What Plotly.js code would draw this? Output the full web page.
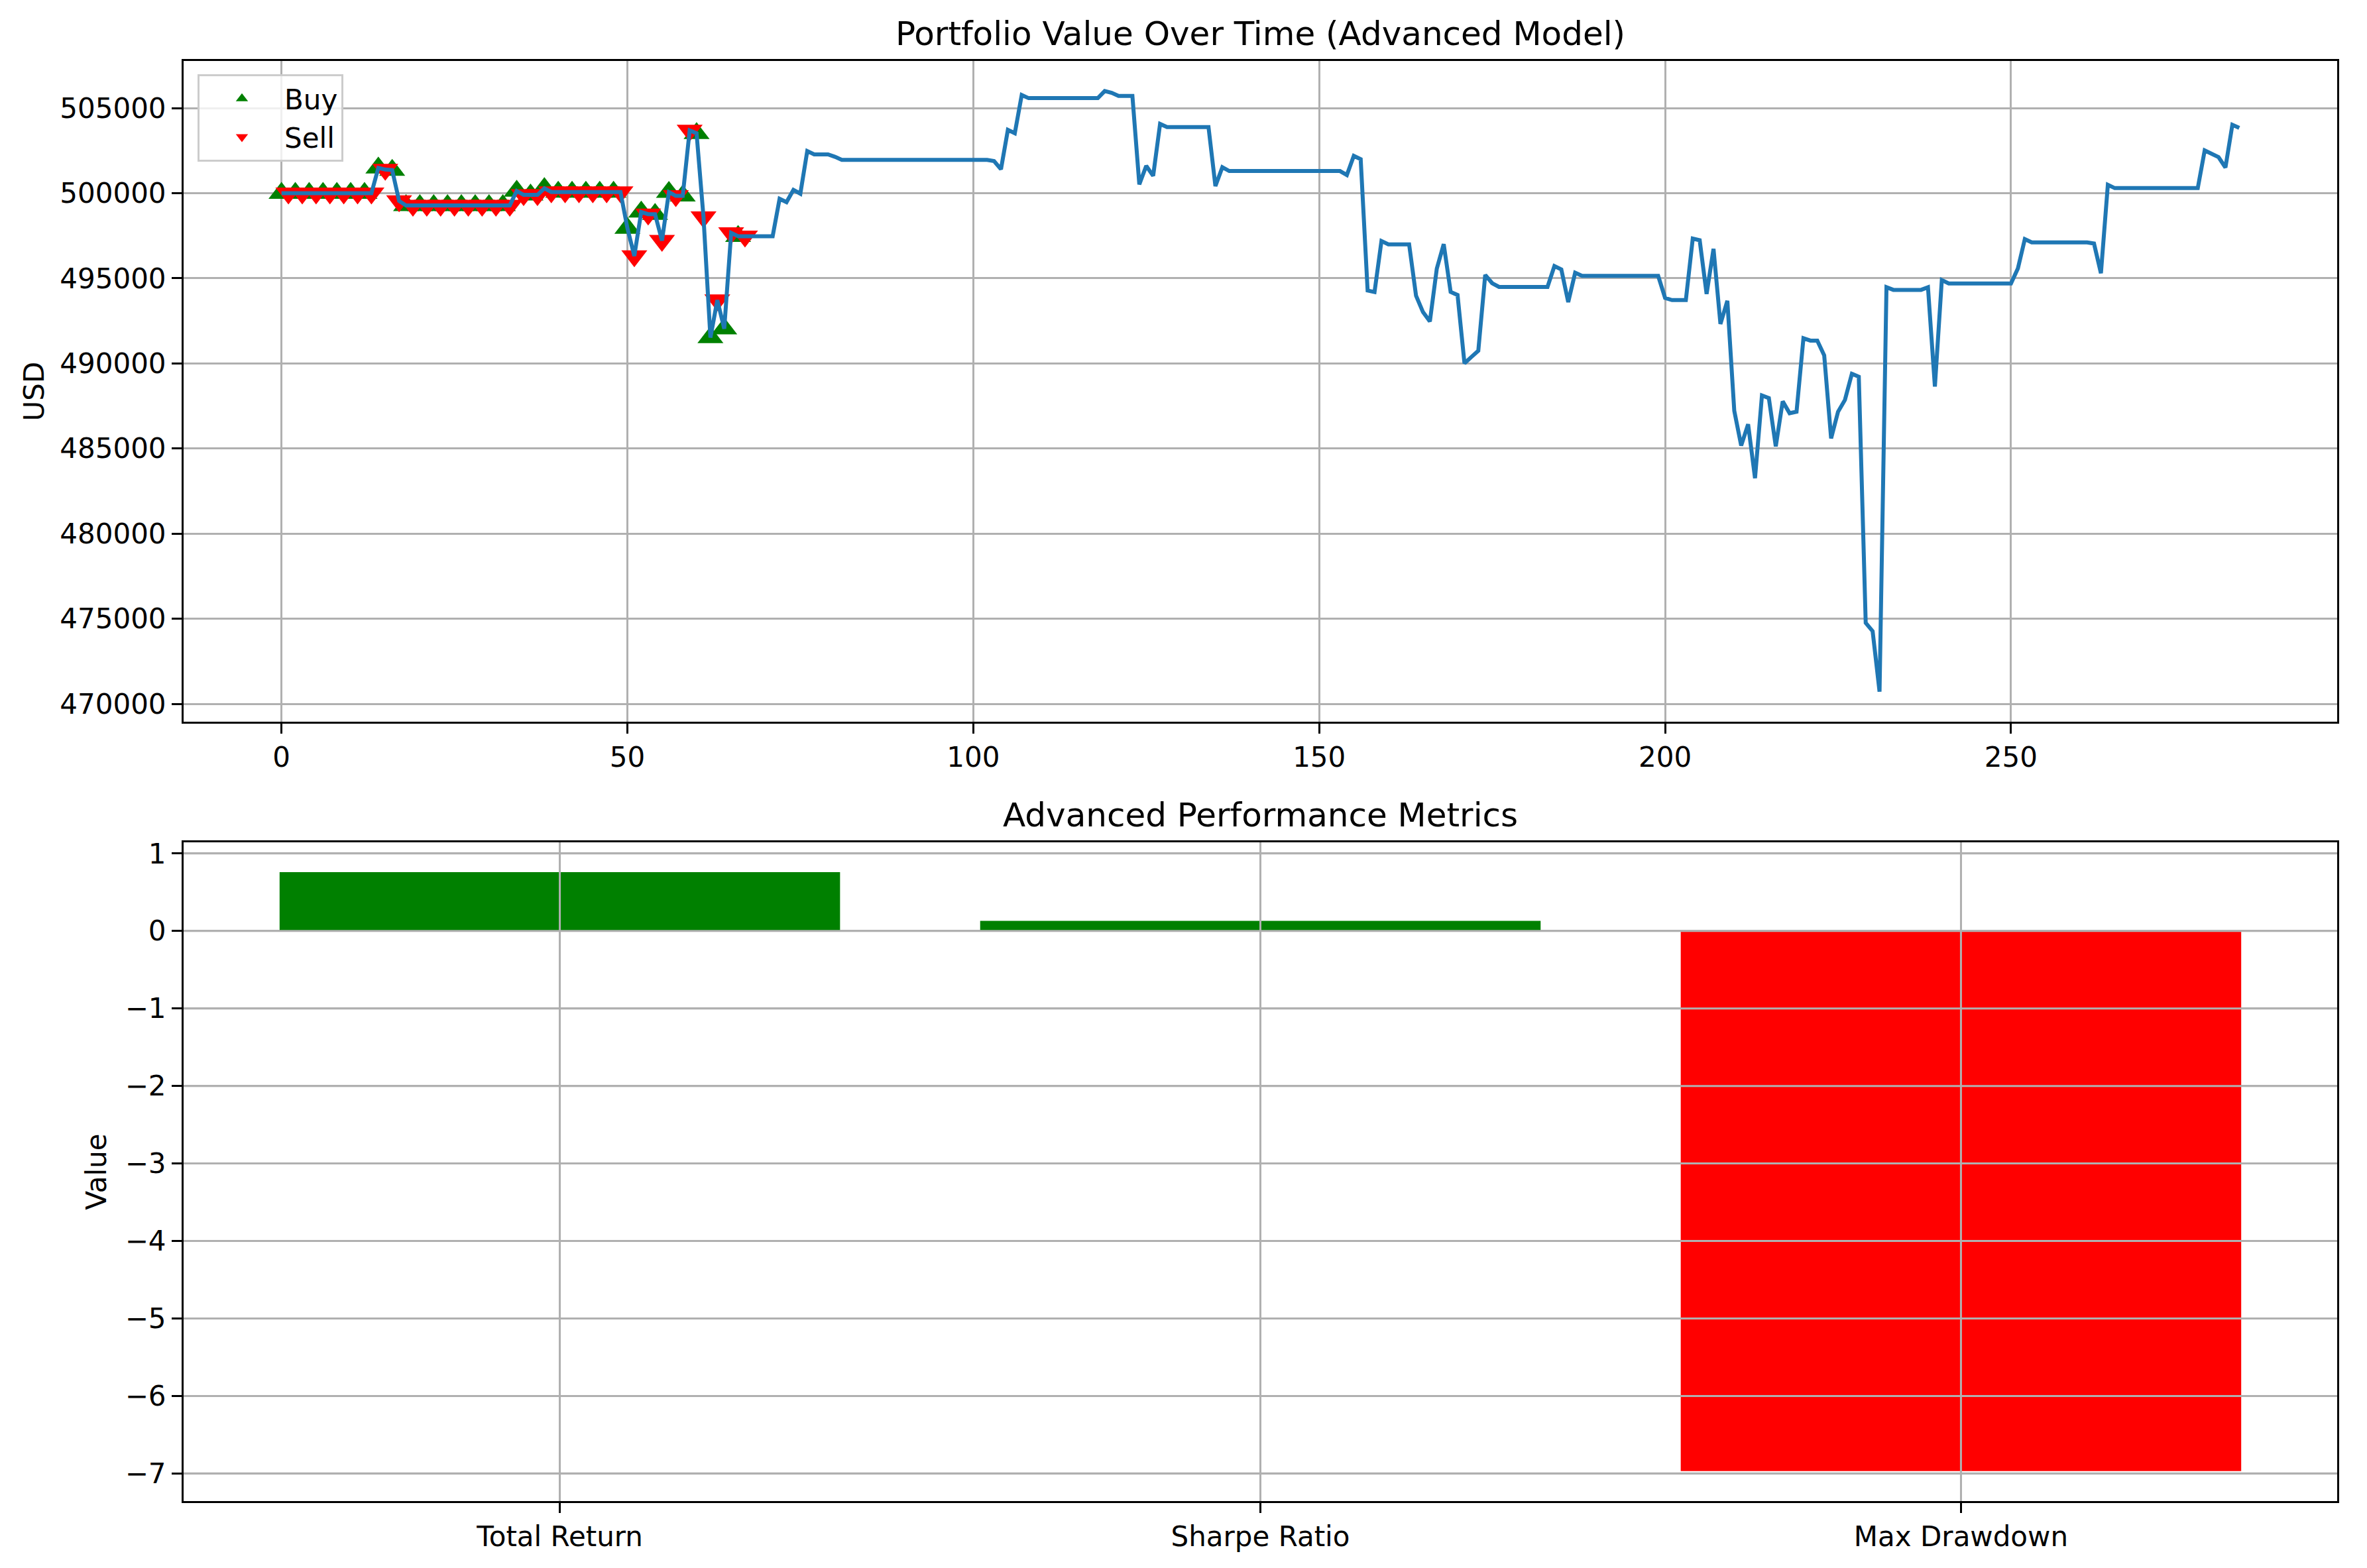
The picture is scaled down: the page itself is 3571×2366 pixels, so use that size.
<!DOCTYPE html>
<html><head><meta charset="utf-8">
<script src="https://cdn.plot.ly/plotly-3.0.1.min.js"></script>
<style>html,body{margin:0;padding:0;background:#fff}#chart{width:3571px;height:2366px}</style>
</head><body><div id="chart"></div>
<script>
// ---- data ----
const portfolioValues = [
500000,500000,500000,500000,500000,500000,500000,500000,500000,500000,
500000,500000,500000,500000,501490,501390,501360,499545,499285,499285,
499285,499285,499285,499285,499285,499285,499285,499285,499285,499285,
499285,499285,499285,499285,500130,499900,499900,499900,500286,500070,
500070,500070,500070,500070,500070,500070,500070,500070,500070,500070,
497950,496310,498900,498770,498770,497216,500065,499845,499845,503690,
503520,498600,491520,493720,492040,497670,497475,497475,497475,497475,
497475,497475,499674,499478,500196,499974,502480,502284,502284,502284,
502140,501958,501958,501958,501958,501958,501958,501958,501958,501958,
501958,501958,501958,501958,501958,501958,501958,501958,501958,501958,
501958,501958,501958,501890,501409,503719,503524,505768,505585,505585,
505585,505585,505585,505585,505585,505585,505585,505585,505585,506003,
505899,505716,505716,505716,500522,501605,501018,504072,503889,503889,
503889,503889,503889,503889,503889,500418,501527,501305,501305,501305,
501305,501305,501305,501305,501305,501305,501305,501305,501305,501305,
501305,501305,501305,501305,501070,502192,501997,494284,494193,497194,
496999,496999,496999,496999,493980,493020,492467,495570,497010,494200,
494020,490008,490380,490745,495200,494715,494493,494493,494493,494493,
494493,494493,494493,494493,495720,495524,493606,495328,495145,495145,
495145,495145,495145,495145,495145,495145,495145,495145,495145,495145,
493850,493720,493720,493720,497335,497237,494080,496730,492320,493680,
487213,485175,486430,483259,488119,487962,485123,487771,487074,487161,
491481,491342,491342,490471,485593,487161,487858,489391,489217,474758,
474270,470717,494477,494321,494321,494321,494321,494321,494477,488642,
494900,494701,494701,494701,494701,494701,494701,494701,494701,494701,
494701,495586,497305,497110,497110,497110,497110,497110,497110,497110,
497110,497110,497044,495300,500495,500299,500299,500299,500299,500299,
500299,500299,500299,500299,500299,500299,500299,500299,502513,502318,
502122,501510,504023,503841
];
const timeSteps = portfolioValues.map((_, i) => i);
const buySteps = [0,2,4,6,8,10,12,14,16,18,20,22,24,26,28,30,32,34,36,38,40,42,44,46,48,50,52,54,56,58,60,62,64,66];
const sellSteps = [1,3,5,7,9,11,13,15,17,19,21,23,25,27,29,31,33,35,37,39,41,43,45,47,49,51,53,55,57,59,61,63,65,67];
const metricNames = ['Total Return', 'Sharpe Ratio', 'Max Drawdown'];
const metricValues = [0.76, 0.13, -6.97];
const topXTicks = [0, 50, 100, 150, 200, 250];
const topYTicks = [470000, 475000, 480000, 485000, 490000, 495000, 500000, 505000];
const bottomYTicks = [-7, -6, -5, -4, -3, -2, -1, 0, 1];

// ---- drawing ----
const W = 3571, H = 2366;
const FONT = 'DejaVu Sans, sans-serif';
const xDom = [277 / W, 3526 / W];
const y1Dom = [1 - 1089 / H, 1 - 92 / H];
const y2Dom = [1 - 2265 / H, 1 - 1271 / H];
const GRID = '#b0b0b0';

const axisBase = () => ({
  showline: true, mirror: true, linecolor: '#000', linewidth: 3,
  ticks: 'outside', ticklen: 15, tickwidth: 3, tickcolor: '#000',
  showgrid: true, gridcolor: GRID, gridwidth: 3, zeroline: false,
  tickfont: {family: FONT, size: 42, color: '#000'}
});

const buyTrace = {
  x: buySteps, y: buySteps.map(i => portfolioValues[i]),
  type: 'scatter', mode: 'markers', name: 'Buy', xaxis: 'x', yaxis: 'y',
  marker: {symbol: 'triangle-up', color: '#008000', size: 34, line: {width: 0}}
};
const sellTrace = {
  x: sellSteps, y: sellSteps.map(i => portfolioValues[i]),
  type: 'scatter', mode: 'markers', name: 'Sell', xaxis: 'x', yaxis: 'y',
  marker: {symbol: 'triangle-down', color: '#ff0000', size: 34, line: {width: 0}}
};
const lineTrace = {
  x: timeSteps, y: portfolioValues, type: 'scatter', mode: 'lines',
  line: {color: '#1f77b4', width: 6}, showlegend: false, xaxis: 'x', yaxis: 'y'
};
const barTrace = {
  x: metricNames, y: metricValues, type: 'bar', width: 0.8,
  marker: {color: metricValues.map(v => v >= 0 ? '#008000' : '#ff0000'), line: {width: 0}},
  showlegend: false, xaxis: 'x2', yaxis: 'y2'
};

// grid over bars (matplotlib draws the grid above the bar patches)
const shapes = [];
bottomYTicks.forEach(t => shapes.push({type: 'line', layer: 'above', xref: 'x2 domain', yref: 'y2',
  x0: 0, x1: 1, y0: t, y1: t, line: {color: GRID, width: 3}}));
metricNames.forEach(n => shapes.push({type: 'line', layer: 'above', xref: 'x2', yref: 'y2 domain',
  x0: n, x1: n, y0: 0, y1: 1, line: {color: GRID, width: 3}}));

const layout = {
  width: W, height: H, autosize: false,
  margin: {l: 0, r: 0, t: 0, b: 0, pad: 0},
  paper_bgcolor: '#fff', plot_bgcolor: '#fff',
  font: {family: FONT, color: '#000', size: 42},
  title: {text: 'Portfolio Value Over Time (Advanced Model)', font: {family: FONT, size: 50, color: '#000'},
    x: (xDom[0] + xDom[1]) / 2, xanchor: 'center', y: 1 - 50 / H, yanchor: 'middle'},
  xaxis: Object.assign(axisBase(), {domain: xDom, anchor: 'y', range: [-14.15, 297.15], tickvals: topXTicks}),
  yaxis: Object.assign(axisBase(), {domain: y1Dom, anchor: 'x', range: [468950, 507770], tickvals: topYTicks,
    tickformat: 'd', title: {text: 'USD', font: {family: FONT, size: 42, color: '#000'}, standoff: 11}}),
  xaxis2: Object.assign(axisBase(), {domain: xDom, anchor: 'y2', type: 'category', categoryorder: 'array',
    categoryarray: metricNames, range: [-0.537, 2.537]}),
  yaxis2: Object.assign(axisBase(), {domain: y2Dom, anchor: 'x2', range: [-7.356, 1.144], tickvals: bottomYTicks,
    title: {text: 'Value', font: {family: FONT, size: 42, color: '#000'}, standoff: 15}}),
  annotations: [{text: 'Advanced Performance Metrics', xref: 'paper', yref: 'paper',
    x: (xDom[0] + xDom[1]) / 2, y: 1 - 1230 / H, xanchor: 'center', yanchor: 'middle', showarrow: false,
    font: {family: FONT, size: 50, color: '#000'}}],
  shapes: shapes,
  legend: {x: 298 / W, y: 1 - 112 / H, xanchor: 'left', yanchor: 'top',
    bgcolor: 'rgba(255,255,255,0.8)', bordercolor: '#cccccc', borderwidth: 3,
    font: {family: FONT, size: 42, color: '#000'}, itemsizing: 'trace', itemwidth: 118, tracegroupgap: 0},
  showlegend: true
};

Plotly.newPlot('chart', [buyTrace, sellTrace, lineTrace, barTrace], layout, {displayModeBar: false, staticPlot: true});
</script>
</body></html>
